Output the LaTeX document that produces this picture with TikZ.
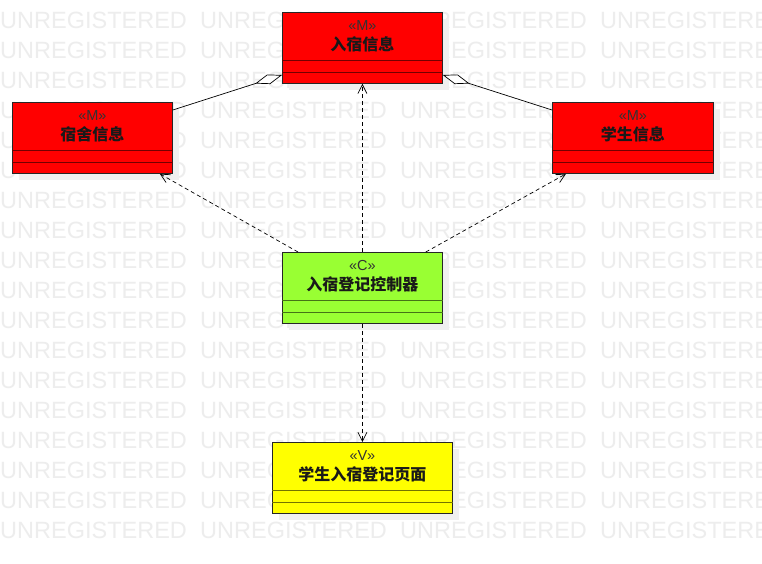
\documentclass[tikz,border=0pt]{standalone}
\usepackage{fontspec}
\setmainfont{Liberation Sans}
\newfontfamily\cjk{Noto Sans CJK SC}
\usetikzlibrary{arrows.meta,calc}
\definecolor{mred}{HTML}{FF0000}
\definecolor{cgreen}{HTML}{99FF33}
\definecolor{vyellow}{HTML}{FFFF00}
\definecolor{wmgray}{HTML}{EDEDED}
\newcommand\umlclass[7]{%
  \fill[black!6] (#2+7,#3+7) rectangle ++(#4,71);
  \node[cls=#4, fill=#5] (#1) at (#2,#3) {};
  \draw[#5!45!black, line width=0.8pt] ($(#1.north west)+(0,48)$) -- ($(#1.north east)+(0,48)$);
  \draw[#5!45!black, line width=0.8pt] ($(#1.north west)+(0,60)$) -- ($(#1.north east)+(0,60)$);
  \node[stereo] (#1-s) at ($(#1.north)+(0,14)$) {«#6»};
  \node[title] (#1-t) at ($(#1.north)+(0,32)$) {\cjk\bfseries #7};
}
\begin{document}
\begin{tikzpicture}[x=1pt,y=-1pt,
  cls/.style={draw=black!85, line width=0.8pt, minimum width=#1, minimum height=71pt,
    inner sep=0pt, anchor=north west},
  stereo/.style={font=\fontsize{14.5}{16}\selectfont, inner sep=0pt, text=black!80},
  title/.style={font=\fontsize{16}{19}\selectfont, inner sep=0pt, text=black!90},
  wm/.style={font=\fontsize{23.5}{26}\selectfont, text=wmgray, inner sep=0pt, anchor=base west},
  agg/.style={line width=0.7pt, {Diamond[length=28pt,width=10pt,fill=white]}-},
  dep/.style={line width=0.7pt, dash pattern=on 4pt off 3pt, -{Straight Barb[length=9pt,width=9pt]}}]
\useasboundingbox (0,0) rectangle (762,563);
\fill[white] (0,0) rectangle (762,563);
\foreach \k in {0,...,17}{
  \foreach \j in {0,...,3}{
    \node[wm] (wm-\k-\j) at (200*\j, 28+30*\k) {UNREGISTERED};
  }
}
\umlclass{in}{282}{12}{160}{mred}{M}{入宿信息}
\umlclass{dorm}{12}{102}{160}{mred}{M}{宿舍信息}
\umlclass{stu}{552}{102}{161}{mred}{M}{学生信息}
\umlclass{ctrl}{282}{252}{160}{cgreen}{C}{入宿登记控制器}
\umlclass{view}{272}{442}{180}{vyellow}{V}{学生入宿登记页面}
\draw[agg] ($(in.north west)+(0,63)$) -- ($(dorm.north east)+(0,8)$);
\draw[agg] ($(in.north east)+(0,63)$) -- ($(stu.north west)+(0,8)$);
\draw[dep] (ctrl.north) -- (in.south);
\draw[dep] ($(ctrl.north west)+(16,0)$) -- ($(dorm.south east)+(-13,0)$);
\draw[dep] ($(ctrl.north east)+(-17,0)$) -- ($(stu.south west)+(14,0)$);
\draw[dep] (ctrl.south) -- (view.north);
\end{tikzpicture}
\end{document}
